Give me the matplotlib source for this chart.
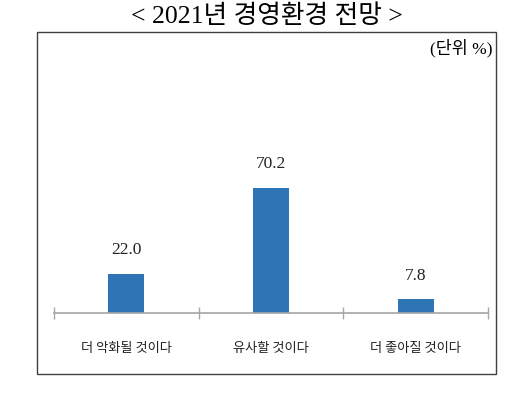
import matplotlib.pyplot as plt
from matplotlib.patches import Rectangle

plt.rcParams['font.family'] = ['Noto Sans CJK KR', 'DejaVu Sans']

title = '< 2021년 경영환경 전망 >'
unit_note = '(단위 %)'
categories = ['더 악화될 것이다', '유사할 것이다', '더 좋아질 것이다']
values = [22.0, 70.2, 7.8]

bar_color = '#2E75B6'
axis_color = '#A6A6A6'

fig = plt.figure(figsize=(5.12, 3.95), dpi=100)

# outer frame around the chart
fig.patches.append(Rectangle((37 / 512, 1 - 374 / 395), 459 / 512, 342 / 395,
                             transform=fig.transFigure, fill=False,
                             edgecolor='#404040', linewidth=1.0))

fig.text(267 / 512, 1 - 16 / 395, title, ha='center', va='center',
         fontsize=18.5, family=['Liberation Serif', 'Noto Sans CJK KR'])
fig.text(492 / 512, 1 - 48 / 395, unit_note, ha='right', va='center',
         fontsize=12.5, family=['Liberation Serif', 'Noto Sans CJK KR'])

ax = fig.add_axes([54 / 512, 1 - 313 / 395, 434 / 512, 142.8 / 395])
x = range(len(categories))
bars = ax.bar(x, values, width=0.25, color=bar_color)
ax.bar_label(bars, fmt='%.1f', padding=11, fontsize=12.5,
             family='Liberation Serif', color='#222222')

ax.set_xlim(-0.5, 2.5)
ax.set_ylim(0, 80)
ax.set_xticks(list(x))
ax.set_xticklabels(categories, fontsize=9.5, color='#222222')
ax.set_xticks([-0.5, 0.5, 1.5, 2.5], minor=True)
ax.tick_params(axis='x', which='major', length=0, pad=21)
ax.tick_params(axis='x', which='minor', direction='inout', length=9,
               color=axis_color, width=1)
ax.set_yticks([])
for side in ['top', 'left', 'right']:
    ax.spines[side].set_visible(False)
ax.spines['bottom'].set_color(axis_color)
ax.spines['bottom'].set_linewidth(1.2)

fig.savefig('out.png', dpi=100)
